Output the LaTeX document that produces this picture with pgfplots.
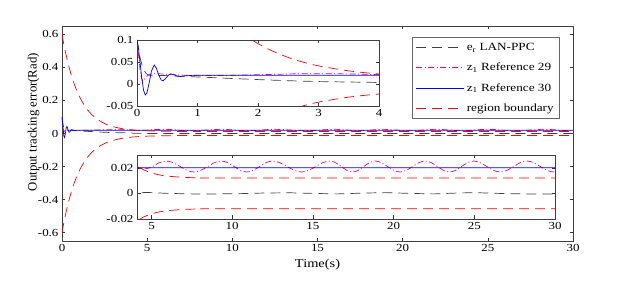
\documentclass[border=0pt]{standalone}
\usepackage{fontspec}
\setmainfont{Liberation Serif}[FakeStretch=1.2]
\newfontfamily\plainserif{Liberation Serif}
\usepackage{pgfplots}
\pgfplotsset{compat=1.18}
\usepackage{pgfplotstable}

\pgfplotstableread{
t up lo
0 0.600 -0.600
0.1 0.544 -0.544
0.25 0.470 -0.470
0.5 0.369 -0.369
0.75 0.290 -0.290
1 0.228 -0.228
1.25 0.181 -0.181
1.5 0.143 -0.143
1.75 0.114 -0.114
2 0.0916 -0.0916
2.25 0.0742 -0.0742
2.5 0.0603 -0.0603
2.75 0.0495 -0.0495
3 0.0413 -0.0413
3.5 0.0298 -0.0298
4 0.0228 -0.0228
4.5 0.0185 -0.0185
5 0.0160 -0.0160
5.5 0.0144 -0.0144
6 0.0135 -0.0135
7 0.0125 -0.0125
8 0.0122 -0.0122
10 0.0120 -0.0120
30 0.0120 -0.0120
}\bound

\pgfplotstableread{
t v
0 0.1
0.02 0.085
0.05 0.05
0.08 0.012
0.11 -0.015
0.137 -0.025
0.165 -0.02
0.2 0.002
0.24 0.03
0.285 0.043
0.32 0.036
0.36 0.02
0.4 0.009
0.43 0.0075
0.47 0.012
0.51 0.019
0.55 0.023
0.6 0.022
0.66 0.018
0.72 0.017
0.8 0.0185
0.9 0.0195
1.0 0.02
2 0.02
30 0.02
}\zblue

\pgfplotstableread{
t v
0 0.1
0.03 0.06
0.06 0.02
0.094 0.006
0.13 0.012
0.18 0.02
0.25 0.0235
0.4 0.023
0.6 0.021
1.0 0.019
1.5 0.0195
2.0 0.021
2.7 0.0235
3.5 0.023
4.0 0.0215
4.3 0.0198
4.6 0.0192
5.0 0.0205
5.45 0.0238
5.91 0.0253
6.34 0.0240
6.77 0.0210
7.19 0.0180
7.62 0.0167
8.05 0.0180
8.48 0.0210
8.90 0.0240
9.33 0.0253
9.72 0.0240
10.12 0.0210
10.51 0.0180
10.9 0.0167
11.3 0.0180
11.7 0.0210
12.1 0.0240
12.5 0.0253
12.95 0.0240
13.4 0.0210
13.85 0.0180
14.3 0.0167
14.74 0.0180
15.18 0.0210
15.61 0.0240
16.05 0.0253
16.4 0.0240
16.75 0.0210
17.1 0.0180
17.45 0.0167
17.8 0.0180
18.15 0.0210
18.5 0.0240
18.85 0.0253
19.24 0.0240
19.63 0.0210
20.01 0.0180
20.4 0.0167
20.79 0.0180
21.18 0.0210
21.57 0.0240
21.96 0.0253
22.34 0.0240
22.71 0.0210
23.09 0.0180
23.46 0.0167
23.84 0.0180
24.21 0.0210
24.59 0.0240
24.96 0.0253
25.37 0.0240
25.78 0.0210
26.19 0.0180
26.6 0.0167
27.02 0.0180
27.44 0.0210
27.85 0.0240
28.27 0.0253
28.68 0.0240
29.09 0.0210
29.49 0.0180
29.9 0.0167
30 0.0168
}\zmag

\pgfplotstableread{
t v
0 0.1
0.05 0.06
0.1 0.035
0.15 0.024
0.2 0.02
0.5 0.019
1 0.016
1.5 0.013
2 0.010
2.5 0.0075
3 0.0055
3.5 0.0045
4 0.0035
4.3 0.0008
5 0.0006
6 0.0
7.5 -0.0004
9 -0.0004
10.5 -0.0002
12 0.0003
13.5 0.0005
15 0.0
16.5 -0.0004
18.3 0.0003
19.5 0.0006
21 0.0
22.5 -0.0004
24 0.0003
25 0.0006
26.5 0.0
28 -0.0004
29.5 -0.0004
30 -0.0006
}\err

\tikzset{
  errstyle/.style={draw=black!75, line width=0.7pt, dash pattern=on 10pt off 6pt},
  magstyle/.style={draw=magenta, line width=0.7pt, dash pattern=on 6pt off 2.5pt on 1pt off 2.5pt},
  bluestyle/.style={draw=blue, line width=0.7pt},
  redstyle/.style={draw=red, line width=0.7pt, dash pattern=on 10pt off 6pt},
}
\pgfplotsset{
  mystyle/.style={
    scale only axis,
    axis line style={black!75, line width=0.6pt},
    tick style={black!80, line width=0.5pt},
    tick align=inside,
    major tick length=3.5pt,
    /pgf/number format/assume math mode=true,
    tick label style={font=\fontsize{10.8}{12}\selectfont},
    scaled ticks=false,
    axis background/.style={fill=white},
  },
}

\begin{document}
\begin{tikzpicture}
\path[use as bounding box] (-62pt,-52pt) rectangle (557pt,241pt);
\begin{axis}[mystyle,
  at={(0pt,0pt)}, anchor=south west,
  width=511pt, height=215pt,
  xmin=0, xmax=30, ymin=-0.65, ymax=0.65,
  xtick={0,5,10,15,20,25,30},
  ytick={-0.6,-0.4,-0.2,0,0.2,0.4,0.6},
  xlabel={Time(s)}, ylabel={Output tracking error(Rad)},
  xlabel style={font=\fontsize{12}{14}\selectfont},
  ylabel style={font=\plainserif\fontsize{12.8}{14}\selectfont,
    at={(axis description cs:-0.0558,0.553)}, anchor=center},
  legend style={at={(0.9746,0.9488)}, anchor=north east,
    draw=black!60, line width=0.6pt, font=\fontsize{11}{13}\selectfont,
    row sep=7pt, inner xsep=4pt, inner ysep=4pt},
  legend cell align=left,
  legend image code/.code={\draw[#1] (0pt,0pt) -- (48pt,0pt);},
]
\addplot[errstyle] table[x=t,y=v] {\err};
\addlegendentry{e\textsubscript{r} LAN-PPC}
\addplot[magstyle] table[x=t,y=v] {\zmag};
\addlegendentry{z\textsubscript{1} Reference 29}
\addplot[bluestyle] table[x=t,y=v] {\zblue};
\addlegendentry{z\textsubscript{1} Reference 30}
\addplot[redstyle, smooth] table[x=t,y=up] {\bound};
\addlegendentry{region boundary}
\addplot[redstyle, smooth, forget plot] table[x=t,y=lo] {\bound};
\end{axis}

\begin{axis}[mystyle,
  at={(75pt,135pt)}, anchor=south west,
  width=242pt, height=66pt,
  xmin=0, xmax=4, ymin=-0.05, ymax=0.1,
  xtick={0,1,2,3,4},
  ytick={-0.05,0,0.05,0.1},
  yticklabels={-0.05,0,0.05,0.1},
]
\addplot[errstyle] table[x=t,y=v] {\err};
\addplot[magstyle] table[x=t,y=v] {\zmag};
\addplot[bluestyle] table[x=t,y=v] {\zblue};
\addplot[redstyle, smooth] table[x=t,y=up] {\bound};
\addplot[redstyle, smooth] table[x=t,y=lo] {\bound};
\end{axis}

\begin{axis}[mystyle,
  at={(75pt,22pt)}, anchor=south west,
  width=418pt, height=64pt,
  xmin=4.1, xmax=30, ymin=-0.02, ymax=0.03,
  xtick={5,10,15,20,25,30},
  ytick={-0.02,0,0.02},
  yticklabels={-0.02,0,0.02},
]
\addplot[errstyle] table[x=t,y=v] {\err};
\addplot[magstyle, smooth] table[x=t,y=v] {\zmag};
\addplot[bluestyle] table[x=t,y=v] {\zblue};
\addplot[redstyle, smooth] table[x=t,y=up] {\bound};
\addplot[redstyle, smooth] table[x=t,y=lo] {\bound};
\end{axis}
\end{tikzpicture}
\end{document}
